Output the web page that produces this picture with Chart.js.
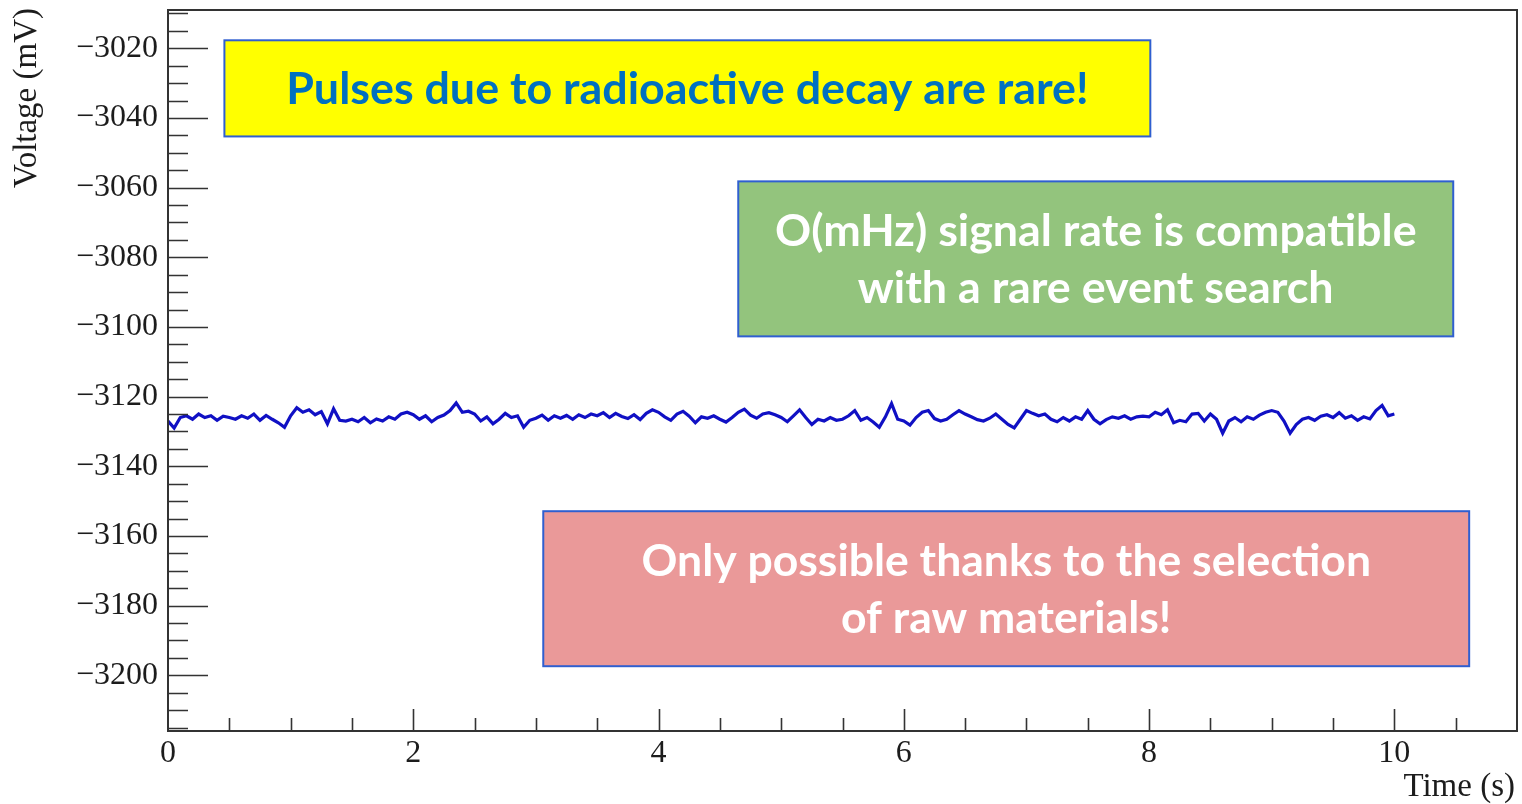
<!DOCTYPE html>
<html>
<head>
<meta charset="utf-8">
<title>Voltage trace</title>
<script src="https://cdn.jsdelivr.net/npm/chart.js@4.4.1/dist/chart.umd.min.js"></script>
<style>
  html, body { margin: 0; padding: 0; background: #fff; }
  #wrap { width: 1522px; height: 804px; }
</style>
</head>
<body>
<div id="wrap"><canvas id="chart"></canvas></div>
<script>
// baseline samples, one every 50 ms from 0 to 10 s
const sampleStep = 0.05;
const voltage = [
  -3127, -3129, -3126, -3125.5, -3126.5, -3125, -3126, -3125.5, -3126.8, -3125.6,
  -3126, -3126.5, -3125.5, -3126.2, -3125, -3126.8, -3125.4, -3126.5, -3127.5, -3128.8,
  -3125.5, -3123.2, -3124.5, -3123.8, -3125.2, -3124.3, -3127.8, -3123.5, -3126.8, -3127,
  -3126.5, -3127.2, -3126, -3127.5, -3126.4, -3127, -3125.8, -3126.5, -3125, -3124.5,
  -3125.2, -3126.5, -3125.5, -3127.2, -3126, -3125.3, -3124, -3121.8, -3124.5, -3124.2,
  -3125, -3127, -3125.8, -3127.8, -3126.5, -3124.8, -3126, -3125.5, -3128.8, -3126.8,
  -3126.2, -3125.3, -3126.8, -3125.5, -3126.2, -3125.4, -3126.5, -3125.2, -3126, -3125,
  -3125.5, -3124.6, -3126, -3124.8, -3125.7, -3126.3, -3125.2, -3126.6, -3124.8, -3123.8,
  -3124.5, -3125.8, -3126.8, -3125, -3124.2, -3125.6, -3127.5, -3125.8, -3126.2, -3125.5,
  -3126.5, -3127.3, -3126, -3124.5, -3123.6, -3125.3, -3126.2, -3125, -3124.6, -3125.2,
  -3126, -3127.2, -3125.5, -3123.8, -3126, -3128, -3126.5, -3127, -3126, -3126.8,
  -3126.5, -3125.5, -3124, -3126.8, -3126, -3127.3, -3128.8, -3125.8, -3122, -3126.5,
  -3127, -3128.2, -3126, -3124.5, -3124, -3126.3, -3127, -3126.5, -3125.2, -3124,
  -3125, -3125.8, -3126.6, -3127, -3126.2, -3125, -3126.5, -3128, -3129, -3126.5,
  -3124, -3124.8, -3125.5, -3125, -3126.5, -3127.2, -3126, -3127, -3125.8, -3126.5,
  -3124, -3126.5, -3127.8, -3126.6, -3125.8, -3126.2, -3125.5, -3126.5, -3125.8, -3125.6,
  -3125.8, -3124.5, -3125.2, -3123.8, -3127.5, -3126.8, -3127.2, -3125, -3124.8, -3127,
  -3125, -3126.5, -3130.5, -3127, -3126, -3127.2, -3125.8, -3126.5, -3125.3, -3124.5,
  -3124, -3124.5, -3127, -3130.5, -3128, -3126.5, -3126, -3126.8, -3125.6, -3125.2,
  -3126, -3124.6, -3126.2, -3125.5, -3126.8, -3125.8, -3126.4, -3124, -3122.5, -3125.5,
  -3125
];

// axis ranges and labels
const xRange = [0, 11];
const yRange = [-3216, -3009];
const xTitle = 'Time (s)';
const yTitle = 'Voltage (mV)';

// text boxes laid over the plot, placed in data units
const notes = [
  { x0: 0.46, x1: 8.01, y0: -3017.7, y1: -3045.3, fill: '#ffff00', color: '#0070c0',
    lines: ['Pulses due to radioactive decay are rare!'], fit: 802 },
  { x0: 4.65, x1: 10.48, y0: -3058.2, y1: -3102.7, fill: '#93c47d', color: '#ffffff',
    lines: ['O(mHz) signal rate is compatible', 'with a rare event search'], fit: 641 },
  { x0: 3.06, x1: 10.61, y0: -3152.9, y1: -3197.4, fill: '#ea9999', color: '#ffffff',
    lines: ['Only possible thanks to the selection', 'of raw materials!'], fit: 730 }
];

const points = voltage.map((v, i) => ({ x: +(i * sampleStep).toFixed(2), y: v }));

const serif = 'Liberation Serif, Times New Roman, serif';
const ink = '#1c1c1c';

// ROOT-like frame with inward ticks, plus axis titles
const rootFrame = {
  id: 'rootFrame',
  afterDraw(chart) {
    const { ctx, chartArea: a, scales: { x, y } } = chart;
    ctx.save();
    ctx.strokeStyle = '#333';
    ctx.lineWidth = 2;
    ctx.strokeRect(a.left, a.top, a.right - a.left, a.bottom - a.top);

    ctx.lineWidth = 1.6;
    ctx.beginPath();
    for (let k = 0; ; k++) {
      const v = -3215 + k * 5;
      if (v > yRange[1]) break;
      const py = Math.round(y.getPixelForValue(v)) + 0.5;
      const len = v % 20 === 0 ? 40 : 20;
      ctx.moveTo(a.left, py);
      ctx.lineTo(a.left + len, py);
    }
    for (let k = 1; k < 22; k++) {
      const t = k * 0.5;
      const px = Math.round(x.getPixelForValue(t)) + 0.5;
      const len = k % 4 === 0 ? 22 : 13;
      ctx.moveTo(px, a.bottom);
      ctx.lineTo(px, a.bottom - len);
    }
    ctx.stroke();

    ctx.fillStyle = ink;
    ctx.font = '33px ' + serif;
    ctx.textAlign = 'right';
    ctx.textBaseline = 'middle';
    ctx.fillText(xTitle, a.right - 2, 787);

    ctx.translate(27, a.top - 2);
    ctx.rotate(-Math.PI / 2);
    ctx.fillText(yTitle, 0, 0);
    ctx.restore();
  }
};

const noteBoxes = {
  id: 'noteBoxes',
  afterDatasetsDraw(chart) {
    const { ctx, scales: { x, y } } = chart;
    ctx.save();
    notes.forEach(n => {
      const l = x.getPixelForValue(n.x0), r = x.getPixelForValue(n.x1);
      const t = y.getPixelForValue(n.y0), b = y.getPixelForValue(n.y1);
      ctx.fillStyle = n.fill;
      ctx.fillRect(l, t, r - l, b - t);
      ctx.strokeStyle = '#2f5fd0';
      ctx.lineWidth = 2;
      ctx.strokeRect(l, t, r - l, b - t);

      ctx.font = 'bold 100px Lato, sans-serif';
      const size = 100 * n.fit / ctx.measureText(n.lines[0]).width;
      ctx.font = 'bold ' + size.toFixed(1) + 'px Lato, sans-serif';
      ctx.fillStyle = n.color;
      ctx.textAlign = 'center';
      ctx.textBaseline = 'middle';
      const gap = 57;
      const cx = (l + r) / 2, cy = (t + b) / 2;
      n.lines.forEach((line, i) => {
        ctx.fillText(line, cx, cy + (i - (n.lines.length - 1) / 2) * gap + 1);
      });
    });
    ctx.restore();
  }
};

// drop the half-label padding Chart.js reserves at the axis ends
function noEndPadding(s) {
  s.paddingTop = 0;
  s.paddingBottom = 0;
  s.paddingLeft = 0;
  s.paddingRight = 0;
}

new Chart(document.getElementById('chart'), {
  type: 'line',
  data: {
    datasets: [{
      data: points,
      borderColor: '#1010c4',
      borderWidth: 3.2,
      pointRadius: 0,
      tension: 0,
      fill: false
    }]
  },
  options: {
    responsive: true,
    maintainAspectRatio: false,
    animation: false,
    layout: { padding: { top: 10, right: 5, left: 0, bottom: 0 } },
    plugins: { legend: { display: false }, tooltip: { enabled: false } },
    scales: {
      x: {
        type: 'linear',
        min: xRange[0],
        max: xRange[1],
        border: { display: false },
        grid: { display: false, drawTicks: false },
        ticks: {
          stepSize: 2,
          includeBounds: false,
          padding: 3,
          autoSkip: false,
          maxRotation: 0,
          color: ink,
          font: { family: serif, size: 32 },
          callback: v => (v % 2 === 0 && v <= 10 ? String(v) : '')
        },
        afterFit(s) { s.height = 73; noEndPadding(s); }
      },
      y: {
        type: 'linear',
        min: yRange[0],
        max: yRange[1],
        border: { display: false },
        grid: { display: false, drawTicks: false },
        ticks: {
          stepSize: 20,
          includeBounds: false,
          padding: 10,
          autoSkip: false,
          color: ink,
          font: { family: serif, size: 32 },
          callback: v => (v % 20 === 0 ? '\u2212' + Math.abs(v) : '')
        },
        afterFit(s) { s.width = 168; noEndPadding(s); }
      }
    }
  },
  plugins: [noteBoxes, rootFrame]
});
</script>
</body>
</html>
